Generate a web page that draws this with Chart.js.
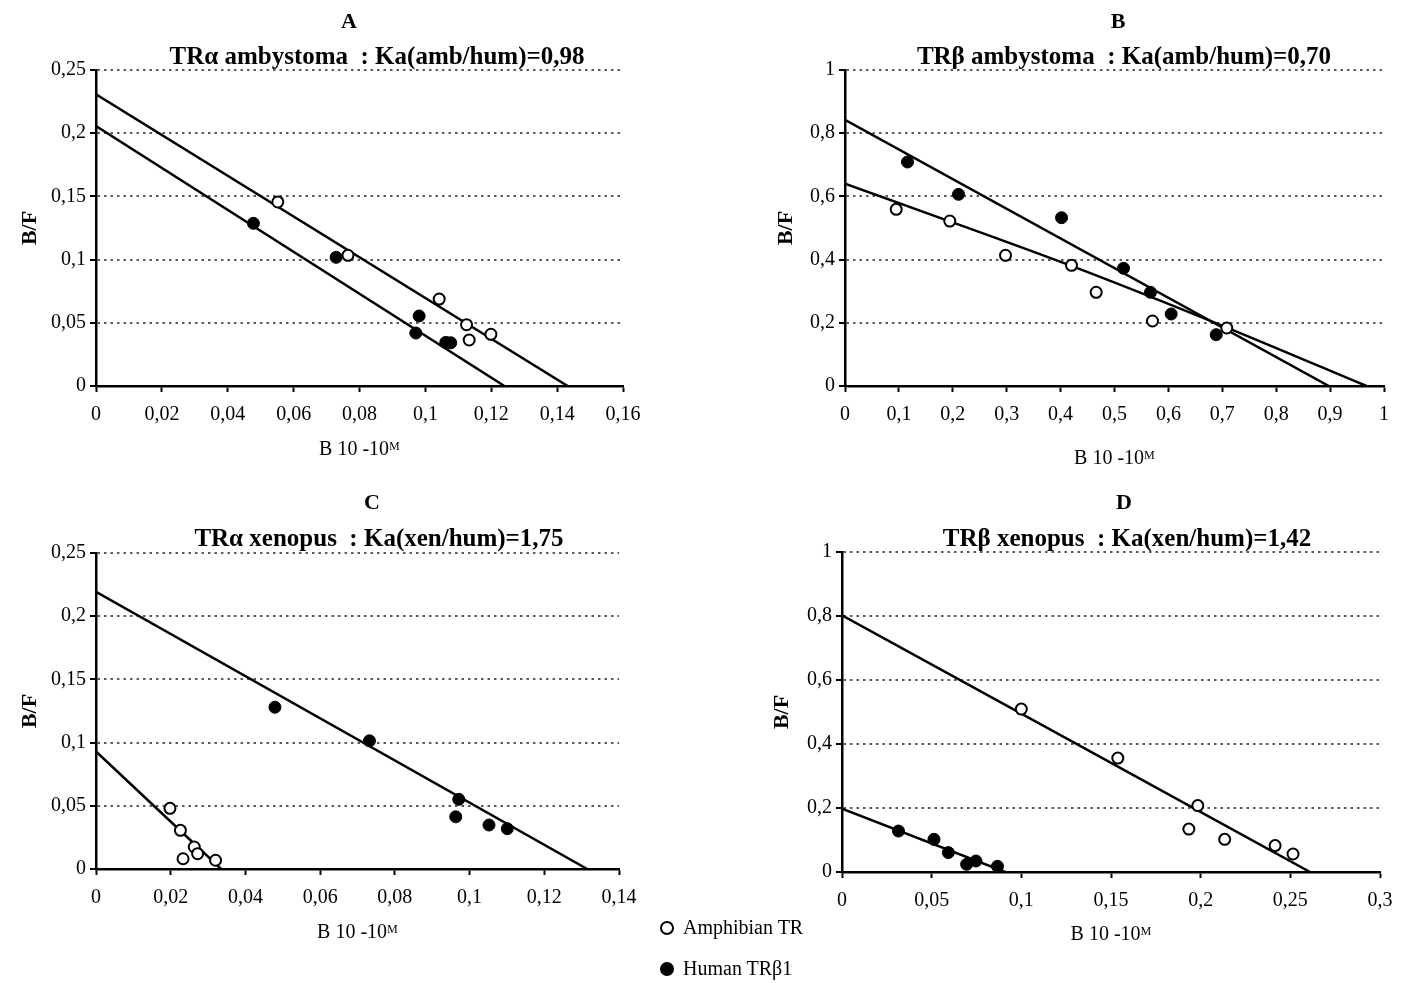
<!DOCTYPE html>
<html>
<head>
<meta charset="utf-8">
<script src="https://cdn.jsdelivr.net/npm/chart.js@4.4.1/dist/chart.umd.min.js"></script>
<style>
  body { margin: 0; background: #fff; }
  #page { position: relative; width: 1404px; height: 983px; font-family: "Liberation Serif", "Times New Roman", serif; color: #000; }
  canvas { position: absolute; }
  #legend { position: absolute; left: 660px; top: 907px; font-size: 20px; line-height: 41px; }
  .key { display: inline-block; box-sizing: border-box; width: 14px; height: 14px; border: 2px solid #000; border-radius: 50%; margin-right: 9px; vertical-align: -1px; background: #fff; }
  .key.filled { background: #000; }
</style>
</head>
<body>
<div id="page">
  <canvas id="panel-a" width="700" height="480" style="left:0;top:0"></canvas>
  <canvas id="panel-b" width="704" height="480" style="left:700px;top:0"></canvas>
  <canvas id="panel-c" width="700" height="503" style="left:0;top:480px"></canvas>
  <canvas id="panel-d" width="704" height="503" style="left:700px;top:480px"></canvas>
  <div id="legend">
    <div><span class="key"></span>Amphibian TR</div>
    <div><span class="key filled"></span>Human TRβ1</div>
  </div>
</div>
<script>
// panel A - TRα ambystoma
const ampA_x = [0.0552, 0.0765, 0.1042, 0.1125, 0.1133, 0.1199];
const ampA_y = [0.1456, 0.1034, 0.0688, 0.0485, 0.0364, 0.0409];
const humA_x = [0.0478, 0.0729, 0.0981, 0.0971, 0.1062, 0.1077];
const humA_y = [0.1287, 0.1018, 0.0554, 0.0419, 0.0345, 0.0342];
const ampA_fitX = [0, 0.1432];
const ampA_fitY = [0.2308, 0];
const humA_fitX = [0, 0.124];
const humA_fitY = [0.2057, 0];
const xTicksA = [0, 0.02, 0.04, 0.06, 0.08, 0.1, 0.12, 0.14, 0.16];
const yTicksA = [0, 0.05, 0.1, 0.15, 0.2, 0.25];

// panel B - TRβ ambystoma
const ampB_x = [0.095, 0.1944, 0.2978, 0.4202, 0.466, 0.5705, 0.7083];
const ampB_y = [0.559, 0.522, 0.4136, 0.382, 0.2965, 0.2057, 0.1835];
const humB_x = [0.116, 0.2106, 0.4017, 0.5167, 0.5668, 0.6052, 0.6887];
const humB_y = [0.709, 0.6066, 0.5326, 0.3725, 0.2965, 0.2278, 0.1623];
const ampB_fitX = [0, 0.42, 0.7083, 0.9675];
const ampB_fitY = [0.64, 0.38, 0.185, 0];
const humB_fitX = [0, 0.8976];
const humB_fitY = [0.842, 0];
const xTicksB = [0, 0.1, 0.2, 0.3, 0.4, 0.5, 0.6, 0.7, 0.8, 0.9, 1];
const yTicksB = [0, 0.2, 0.4, 0.6, 0.8, 1];

// panel C - TRα xenopus
const ampC_x = [0.0198, 0.0226, 0.0263, 0.0272, 0.0233, 0.032];
const ampC_y = [0.048, 0.0306, 0.0174, 0.0121, 0.0081, 0.0069];
const humC_x = [0.0479, 0.0732, 0.0971, 0.0963, 0.1052, 0.1101];
const humC_y = [0.128, 0.1014, 0.0551, 0.0413, 0.0348, 0.0319];
const ampC_fitX = [0, 0.0335];
const ampC_fitY = [0.093, 0];
const humC_fitX = [0, 0.1315];
const humC_fitY = [0.2192, 0];
const xTicksC = [0, 0.02, 0.04, 0.06, 0.08, 0.1, 0.12, 0.14];
const yTicksC = [0, 0.05, 0.1, 0.15, 0.2, 0.25];

// panel D - TRβ xenopus
const ampD_x = [0.1, 0.1538, 0.1984, 0.1934, 0.2134, 0.2415, 0.2515];
const ampD_y = [0.509, 0.356, 0.2075, 0.134, 0.102, 0.0825, 0.0563];
const humD_x = [0.0315, 0.0513, 0.0593, 0.0695, 0.0747, 0.0867];
const humD_y = [0.128, 0.102, 0.0606, 0.024, 0.0344, 0.0178];
const ampD_fitX = [0, 0.261];
const ampD_fitY = [0.802, 0];
const humD_fitX = [0, 0.091];
const humD_fitY = [0.198, 0];
const xTicksD = [0, 0.05, 0.1, 0.15, 0.2, 0.25, 0.3];
const yTicksD = [0, 0.2, 0.4, 0.6, 0.8, 1];

const serif = '"Liberation Serif", "Times New Roman", serif';
Chart.defaults.font.family = serif;
Chart.defaults.color = '#000';

const toPoints = (xs, ys) => xs.map((x, i) => ({ x: x, y: ys[i] }));
const fmt = v => String(Math.round(v * 1000) / 1000).replace('.', ',');

// panel letter + subtitle, drawn on the canvas
const panelText = {
  id: 'panelText',
  afterDraw(chart, args, opts) {
    const ctx = chart.ctx;
    ctx.save();
    ctx.fillStyle = '#000';
    ctx.textAlign = 'center';
    ctx.textBaseline = 'middle';
    ctx.font = 'bold 22px ' + serif;
    ctx.fillText(opts.letter, opts.letterPos[0], opts.letterPos[1]);
    ctx.font = 'bold 25px ' + serif;
    ctx.fillText(opts.subtitle, opts.subPos[0], opts.subPos[1]);
    ctx.restore();
  }
};

function drawPanel(id, p) {
  return new Chart(document.getElementById(id), {
    type: 'scatter',
    plugins: [panelText],
    data: {
      datasets: [
        {
          data: toPoints(p.ampX, p.ampY),
          pointRadius: 5.5, pointBorderWidth: 2,
          pointBackgroundColor: '#fff', pointBorderColor: '#000',
          order: 0
        },
        {
          data: toPoints(p.humX, p.humY),
          pointRadius: 6, pointBorderWidth: 1,
          pointBackgroundColor: '#000', pointBorderColor: '#000',
          order: 0
        },
        {
          data: toPoints(p.ampFitX, p.ampFitY),
          showLine: true, borderColor: '#000', borderWidth: 2.5,
          pointRadius: 0, cubicInterpolationMode: 'monotone',
          order: 1
        },
        {
          data: toPoints(p.humFitX, p.humFitY),
          showLine: true, borderColor: '#000', borderWidth: 2.5,
          pointRadius: 0,
          order: 1
        }
      ]
    },
    options: {
      responsive: false,
      animation: false,
      events: [],
      layout: { padding: p.padding },
      plugins: {
        legend: { display: false },
        tooltip: { enabled: false },
        panelText: { letter: p.letter, subtitle: p.subtitle, letterPos: p.letterPos, subPos: p.subPos }
      },
      scales: {
        x: {
          type: 'linear',
          min: p.xTicks[0],
          max: p.xTicks[p.xTicks.length - 1],
          afterBuildTicks: s => { s.ticks = p.xTicks.map(v => ({ value: v })); },
          afterFit: s => { s.height = p.xAxisHeight; },
          grid: { drawOnChartArea: false, tickLength: 6, tickColor: '#000', tickWidth: 2 },
          border: { color: '#000', width: 2.5 },
          ticks: { autoSkip: false, maxRotation: 0, padding: 11, color: '#000', font: { size: 20 }, callback: fmt },
          title: { display: true, text: 'B 10 -10ᴹ', color: '#000', font: { size: 20 }, padding: 0 }
        },
        y: {
          type: 'linear',
          min: p.yTicks[0],
          max: p.yTicks[p.yTicks.length - 1],
          afterBuildTicks: s => { s.ticks = p.yTicks.map(v => ({ value: v })); },
          afterFit: s => { s.width = p.yAxisWidth; },
          grid: { color: '#5a5a5a', lineWidth: 2, tickLength: 6, tickColor: '#000', tickWidth: 2, tickBorderDash: [] },
          border: { color: '#000', width: 2.5, dash: [2.5, 4] },
          ticks: { padding: 4, color: '#000', font: { size: 20 }, callback: fmt },
          title: { display: true, text: 'B/F', color: '#000', font: { size: 22, weight: 'bold' }, padding: 0 }
        }
      }
    }
  });
}

drawPanel('panel-a', {
  ampX: ampA_x, ampY: ampA_y, humX: humA_x, humY: humA_y,
  ampFitX: ampA_fitX, ampFitY: ampA_fitY, humFitX: humA_fitX, humFitY: humA_fitY,
  xTicks: xTicksA, yTicks: yTicksA,
  padding: { left: 17, top: 70, right: 77, bottom: 18 },
  yAxisWidth: 79, xAxisHeight: 76,
  letter: 'A', letterPos: [349, 22],
  subtitle: 'TRα ambystoma  : Ka(amb/hum)=0,98', subPos: [377, 58]
});

drawPanel('panel-b', {
  ampX: ampB_x, ampY: ampB_y, humX: humB_x, humY: humB_y,
  ampFitX: ampB_fitX, ampFitY: ampB_fitY, humFitX: humB_fitX, humFitY: humB_fitY,
  xTicks: xTicksB, yTicks: yTicksB,
  padding: { left: 73, top: 70, right: 20, bottom: 9 },
  yAxisWidth: 72, xAxisHeight: 85,
  letter: 'B', letterPos: [418, 22],
  subtitle: 'TRβ ambystoma  : Ka(amb/hum)=0,70', subPos: [424, 58]
});

drawPanel('panel-c', {
  ampX: ampC_x, ampY: ampC_y, humX: humC_x, humY: humC_y,
  ampFitX: ampC_fitX, ampFitY: ampC_fitY, humFitX: humC_fitX, humFitY: humC_fitY,
  xTicks: xTicksC, yTicks: yTicksC,
  padding: { left: 17, top: 73, right: 81, bottom: 38 },
  yAxisWidth: 79, xAxisHeight: 76,
  letter: 'C', letterPos: [372, 23],
  subtitle: 'TRα xenopus  : Ka(xen/hum)=1,75', subPos: [379, 60]
});

drawPanel('panel-d', {
  ampX: ampD_x, ampY: ampD_y, humX: humD_x, humY: humD_y,
  ampFitX: ampD_fitX, ampFitY: ampD_fitY, humFitX: humD_fitX, humFitY: humD_fitY,
  xTicks: xTicksD, yTicks: yTicksD,
  padding: { left: 69, top: 72, right: 24, bottom: 36 },
  yAxisWidth: 73, xAxisHeight: 75,
  letter: 'D', letterPos: [424, 23],
  subtitle: 'TRβ xenopus  : Ka(xen/hum)=1,42', subPos: [427, 60]
});
</script>
</body>
</html>
